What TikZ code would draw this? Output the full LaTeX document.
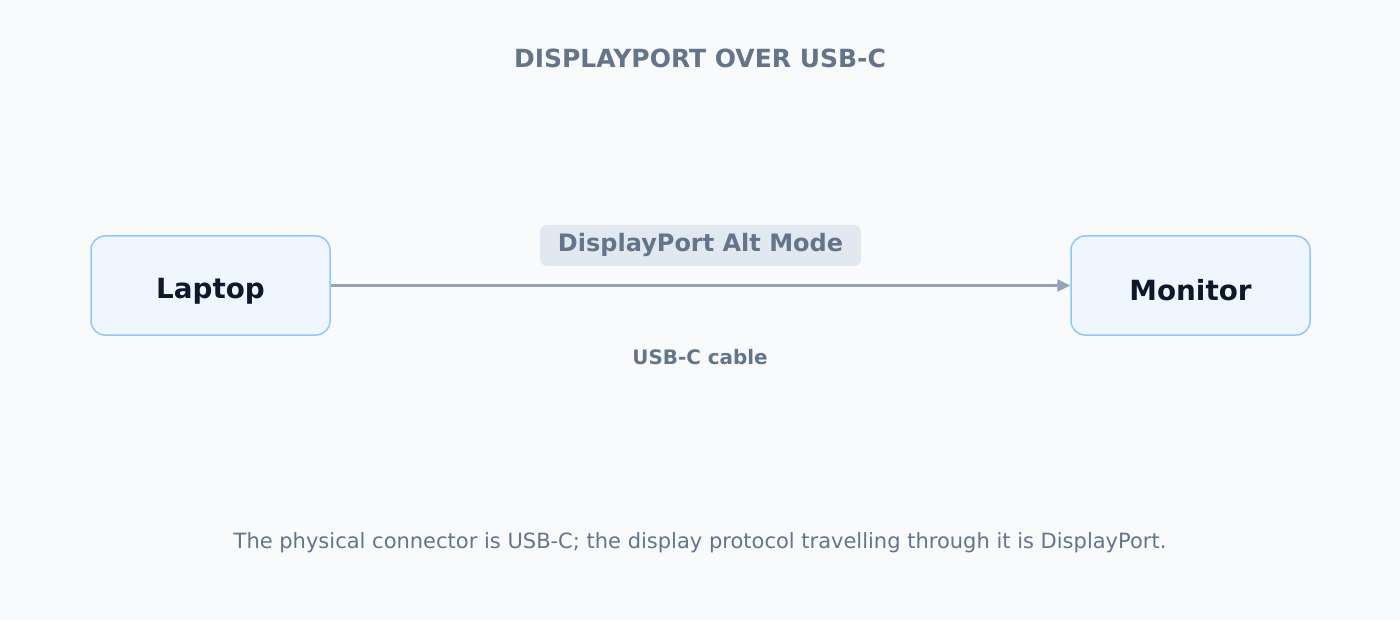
\documentclass[tikz,border=0pt]{standalone}
\usepackage{fontspec}
\setmainfont{DejaVu Sans}
\usetikzlibrary{arrows.meta}
\definecolor{bg}{HTML}{F8FAFC}
\definecolor{boxfill}{HTML}{EFF6FF}
\definecolor{boxline}{HTML}{93C5FD}
\definecolor{ink}{HTML}{0F172A}
\definecolor{muted}{HTML}{64748B}
\definecolor{wire}{HTML}{94A3B8}
\definecolor{pill}{HTML}{E2E8F0}
\newcommand{\basedown}[2]{\raisebox{-#1}[0pt][0pt]{#2}}
\tikzset{
  device/.style={draw=boxline, line width=1.5pt, fill=boxfill, rounded corners=14pt,
    minimum width=239pt, minimum height=99pt, inner sep=0pt, text=ink,
    font=\bfseries\fontsize{27.8}{32}\selectfont},
  link/.style={draw=wire, line width=3pt, -{Triangle[length=13pt,width=12pt]}},
  pilllabel/.style={fill=pill, rounded corners=7pt, minimum width=321pt, minimum height=41pt,
    inner sep=0pt, text=muted, font=\bfseries\fontsize{24}{28}\selectfont},
  title/.style={text=muted, font=\bfseries\fontsize{25}{30}\selectfont},
  cable/.style={text=muted, font=\bfseries\fontsize{19.9}{24}\selectfont},
  note/.style={text=muted, font=\fontsize{21}{25}\selectfont}
}
\begin{document}
\begin{tikzpicture}[x=1pt,y=-1pt]
\fill[bg] (0,0) rectangle (1400,620);
\useasboundingbox (0,0) rectangle (1400,620);
\node[title] (title) at (700,58) {DISPLAYPORT OVER USB-C};
\node[device] (lap) at (210.5,285.5) {\basedown{13.2pt}{Laptop}};
\node[device] (mon) at (1190.5,285.5) {\basedown{15.2pt}{Monitor}};
\draw[link] (lap.east) -- (mon.west);
\node[pilllabel] (alt) at (700.5,245.5) {\basedown{6.5pt}{DisplayPort Alt Mode}};
\node[cable] (usb) at (700,357) {USB-C cable};
\node[note] (foot) at (700,542.5) {The physical connector is USB-C; the display protocol travelling through it is DisplayPort.};
\end{tikzpicture}
\end{document}
